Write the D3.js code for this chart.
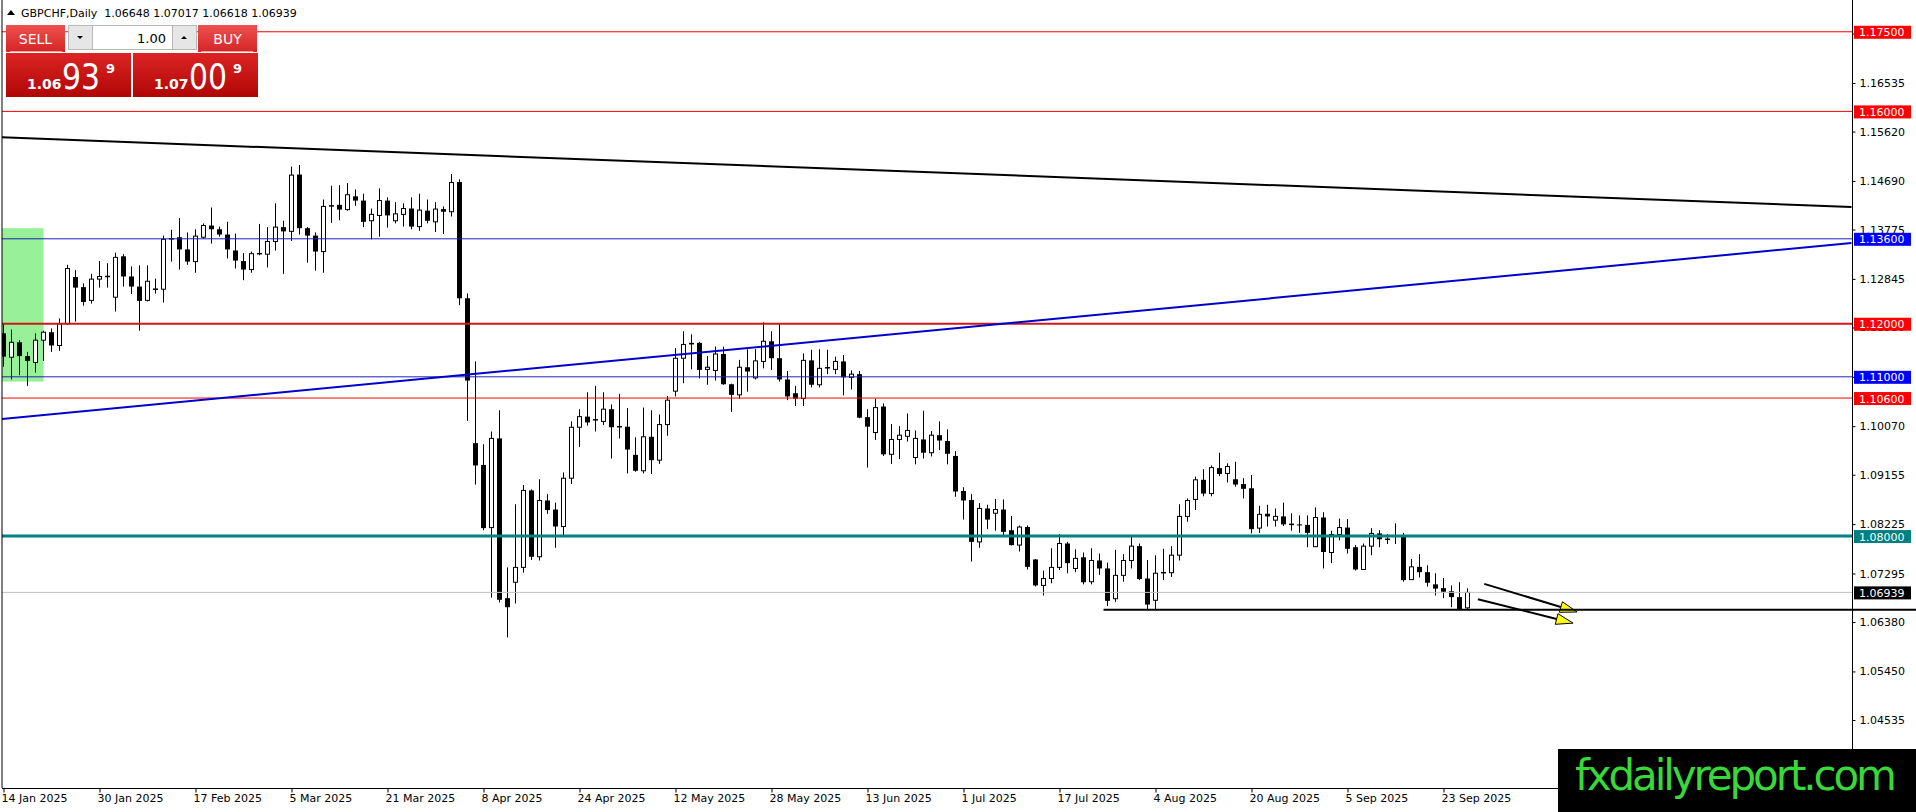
<!DOCTYPE html>
<html>
<head>
<meta charset="utf-8">
<script src="https://cdn.jsdelivr.net/npm/d3@7"></script>
<style>
  body { margin: 0; background: #fff; overflow: hidden; }
  svg { display: block; }
  text { font-family: "DejaVu Sans", sans-serif; }
</style>
</head>
<body>
<div id="chart"></div>
<script>
// GBPCHF daily, 14 Jan 2025 .. 26 Sep 2025
const symbolName = "GBPCHF,Daily";
const dateLabels = ["14 Jan 2025", "30 Jan 2025", "17 Feb 2025", "5 Mar 2025", "21 Mar 2025", "8 Apr 2025",
  "24 Apr 2025", "12 May 2025", "28 May 2025", "13 Jun 2025", "1 Jul 2025", "17 Jul 2025",
  "4 Aug 2025", "20 Aug 2025", "5 Sep 2025", "23 Sep 2025"];
const dateLabelBars = [0, 12, 24, 36, 48, 60, 72, 84, 96, 108, 120, 132, 144, 156, 168, 180];

const opens = [
  1.1182, 1.1137, 1.1165, 1.1139, 1.1127, 1.1169, 1.1184, 1.1159, 1.1200, 1.1288,
  1.1269, 1.1244, 1.1284, 1.1289, 1.1250, 1.1327, 1.1289, 1.1270, 1.1244, 1.1265,
  1.1265, 1.1360, 1.1363, 1.1340, 1.1317, 1.1363, 1.1385, 1.1378, 1.1368, 1.1338,
  1.1318, 1.1302, 1.1332, 1.1331, 1.1355, 1.1382, 1.1374, 1.1481, 1.1380, 1.1366,
  1.1336, 1.1422, 1.1424, 1.1415, 1.1440, 1.1432, 1.1394, 1.1404, 1.1432, 1.1394,
  1.1406, 1.1417, 1.1383, 1.1413, 1.1392, 1.1416, 1.1411, 1.1467, 1.1248, 1.0975,
  1.0934, 1.0816, 1.0984, 1.0683, 1.0713, 1.0741, 1.0886, 1.0761, 1.0867, 1.0850,
  1.0818, 1.0909, 1.1005, 1.1025, 1.1019, 1.1016, 1.1039, 1.1006, 1.1006, 1.0953,
  1.0923, 1.0987, 1.0943, 1.1010, 1.1073, 1.1135, 1.1164, 1.1164, 1.1114, 1.1112,
  1.1143, 1.1086, 1.1066, 1.1118, 1.1098, 1.1129, 1.1167, 1.1135, 1.1095, 1.1069,
  1.1059, 1.1131, 1.1085, 1.1117, 1.1114, 1.1129, 1.1099, 1.1105, 1.1024, 1.0995,
  1.1044, 1.0954, 1.0982, 1.0988, 1.0948, 1.0982, 1.0957, 1.0990, 1.0979, 1.0951,
  1.0885, 1.0868, 1.0789, 1.0852, 1.0843, 1.0850, 1.0811, 1.0783, 1.0817, 1.0756,
  1.0707, 1.0720, 1.0741, 1.0786, 1.0739, 1.0760, 1.0714, 1.0754, 1.0739, 1.0682,
  1.0726, 1.0754, 1.0781, 1.0720, 1.0679, 1.0731, 1.0731, 1.0764, 1.0837, 1.0869,
  1.0906, 1.0880, 1.0928, 1.0918, 1.0907, 1.0898, 1.0890, 1.0815, 1.0842, 1.0830,
  1.0837, 1.0822, 1.0822, 1.0821, 1.0780, 1.0835, 1.0769, 1.0803, 1.0816, 1.0779,
  1.0737, 1.0781, 1.0805, 1.0794, 1.0800, 1.0800, 1.0718, 1.0742, 1.0732, 1.0709,
  1.0702, 1.0696, 1.0685, 1.06648];
const highs = [
  1.1201, 1.1189, 1.1169, 1.1147, 1.1182, 1.1187, 1.1191, 1.1210, 1.1311, 1.1301,
  1.1276, 1.1294, 1.1318, 1.1314, 1.1334, 1.1331, 1.1308, 1.1310, 1.1310, 1.1285,
  1.1366, 1.1377, 1.1399, 1.1372, 1.1378, 1.1389, 1.1419, 1.1383, 1.1392, 1.1370,
  1.1333, 1.1336, 1.1388, 1.1382, 1.1427, 1.1394, 1.1496, 1.1499, 1.1382, 1.1372,
  1.1434, 1.1460, 1.1461, 1.1465, 1.1453, 1.1445, 1.1417, 1.1455, 1.1438, 1.1429,
  1.1427, 1.1438, 1.1445, 1.1434, 1.1429, 1.1421, 1.1482, 1.1472, 1.1257, 1.1129,
  1.0973, 1.0997, 1.1037, 1.0741, 1.0860, 1.0896, 1.0888, 1.0907, 1.0879, 1.0863,
  1.0920, 1.1016, 1.1039, 1.1071, 1.1083, 1.1071, 1.1048, 1.1068, 1.1041, 1.0986,
  1.1042, 1.1037, 1.1029, 1.1064, 1.1154, 1.1186, 1.1180, 1.1166, 1.1139, 1.1157,
  1.1157, 1.1087, 1.1132, 1.1152, 1.1152, 1.1203, 1.1186, 1.1200, 1.1111, 1.1083,
  1.1144, 1.1151, 1.1152, 1.1151, 1.1138, 1.1141, 1.1112, 1.1111, 1.1039, 1.1059,
  1.1050, 1.1011, 1.1007, 1.1031, 1.0999, 1.1036, 1.0998, 1.1016, 1.1001, 1.0960,
  1.0892, 1.0879, 1.0862, 1.0859, 1.0870, 1.0869, 1.0838, 1.0820, 1.0820, 1.0757,
  1.0735, 1.0777, 1.0804, 1.0789, 1.0775, 1.0769, 1.0777, 1.0767, 1.0750, 1.0774,
  1.0766, 1.0799, 1.0786, 1.0755, 1.0764, 1.0776, 1.0781, 1.0860, 1.0871, 1.0912,
  1.0926, 1.0933, 1.0957, 1.0937, 1.0940, 1.0909, 1.0915, 1.0857, 1.0859, 1.0852,
  1.0863, 1.0843, 1.0839, 1.0839, 1.0854, 1.0845, 1.0810, 1.0833, 1.0832, 1.0783,
  1.0786, 1.0815, 1.0811, 1.0804, 1.0824, 1.0806, 1.0757, 1.0766, 1.0745, 1.0730,
  1.0721, 1.0707, 1.0713, 1.07017];
const lows = [
  1.1119, 1.1095, 1.1103, 1.1083, 1.1108, 1.1130, 1.1147, 1.1149, 1.1198, 1.1204,
  1.1234, 1.1238, 1.1268, 1.1268, 1.1223, 1.1270, 1.1256, 1.1187, 1.1242, 1.1257,
  1.1240, 1.1317, 1.1302, 1.1311, 1.1296, 1.1360, 1.1351, 1.1364, 1.1323, 1.1304,
  1.1282, 1.1296, 1.1329, 1.1306, 1.1338, 1.1294, 1.1356, 1.1368, 1.1315, 1.1300,
  1.1296, 1.1390, 1.1395, 1.1413, 1.1422, 1.1382, 1.1359, 1.1364, 1.1381, 1.1389,
  1.1383, 1.1378, 1.1375, 1.1389, 1.1373, 1.1369, 1.1402, 1.1235, 1.1017, 1.0897,
  1.0811, 1.0684, 1.0675, 1.0609, 1.0673, 1.0731, 1.0755, 1.0754, 1.0842, 1.0778,
  1.0798, 1.0898, 1.0968, 1.1008, 1.0997, 1.1009, 1.0946, 1.0984, 1.0918, 1.0921,
  1.0918, 1.0917, 1.0936, 1.0989, 1.1063, 1.1088, 1.1114, 1.1097, 1.1085, 1.1093,
  1.1085, 1.1034, 1.1059, 1.1072, 1.1095, 1.1116, 1.1113, 1.1091, 1.1056, 1.1045,
  1.1045, 1.1080, 1.1080, 1.1105, 1.1105, 1.1065, 1.1076, 1.1022, 1.0929, 1.0981,
  1.0951, 1.0936, 1.0945, 1.0978, 1.0935, 1.0946, 1.0950, 1.0962, 1.0935, 1.0874,
  1.0831, 1.0752, 1.0778, 1.0813, 1.0810, 1.0800, 1.0782, 1.0771, 1.0737, 1.0705,
  1.0688, 1.0711, 1.0736, 1.0730, 1.0732, 1.0709, 1.0709, 1.0727, 1.0668, 1.0676,
  1.0714, 1.0739, 1.0717, 1.0662, 1.0661, 1.0717, 1.0723, 1.0754, 1.0827, 1.0849,
  1.0875, 1.0875, 1.0913, 1.0901, 1.0893, 1.0871, 1.0805, 1.0806, 1.0818, 1.0818,
  1.0819, 1.0810, 1.0806, 1.0779, 1.0780, 1.0739, 1.0749, 1.0792, 1.0767, 1.0735,
  1.0736, 1.0764, 1.0779, 1.0785, 1.0785, 1.0714, 1.0718, 1.0722, 1.0705, 1.0688,
  1.0683, 1.0666, 1.0661, 1.06618];
const closes = [
  1.1138, 1.1165, 1.1139, 1.1130, 1.1169, 1.1184, 1.1159, 1.1200, 1.1304, 1.1268,
  1.1241, 1.1284, 1.1289, 1.1289, 1.1325, 1.1289, 1.1270, 1.1243, 1.1280, 1.1265,
  1.1359, 1.1360, 1.1340, 1.1317, 1.1365, 1.1385, 1.1378, 1.1368, 1.1340, 1.1319,
  1.1302, 1.1332, 1.1332, 1.1355, 1.1382, 1.1374, 1.1480, 1.1380, 1.1366, 1.1336,
  1.1421, 1.1422, 1.1415, 1.1443, 1.1432, 1.1392, 1.1406, 1.1432, 1.1404, 1.1407,
  1.1417, 1.1383, 1.1414, 1.1394, 1.1416, 1.1411, 1.1466, 1.1248, 1.1093, 1.0933,
  1.0815, 1.0984, 1.0680, 1.0666, 1.0741, 1.0886, 1.0761, 1.0867, 1.0849, 1.0818,
  1.0909, 1.1005, 1.1025, 1.1014, 1.1019, 1.1039, 1.1005, 1.1006, 1.0963, 1.0923,
  1.0987, 1.0943, 1.1010, 1.1056, 1.1135, 1.1161, 1.1161, 1.1113, 1.1118, 1.1143,
  1.1086, 1.1066, 1.1118, 1.1110, 1.1130, 1.1167, 1.1135, 1.1095, 1.1063, 1.1059,
  1.1131, 1.1085, 1.1116, 1.1117, 1.1129, 1.1099, 1.1105, 1.1023, 1.1006, 1.1042,
  1.0954, 1.0982, 1.0990, 1.0999, 1.0984, 1.0957, 1.0990, 1.0980, 1.0955, 1.0884,
  1.0867, 1.0789, 1.0852, 1.0831, 1.0850, 1.0808, 1.0783, 1.0817, 1.0742, 1.0707,
  1.0720, 1.0741, 1.0786, 1.0749, 1.0758, 1.0713, 1.0754, 1.0739, 1.0678, 1.0726,
  1.0754, 1.0781, 1.0719, 1.0671, 1.0730, 1.0731, 1.0764, 1.0837, 1.0867, 1.0906,
  1.0880, 1.0929, 1.0917, 1.0931, 1.0897, 1.0889, 1.0813, 1.0841, 1.0837, 1.0837,
  1.0822, 1.0822, 1.0820, 1.0806, 1.0835, 1.0770, 1.0803, 1.0816, 1.0776, 1.0737,
  1.0781, 1.0805, 1.0794, 1.0794, 1.0800, 1.0717, 1.0742, 1.0732, 1.0712, 1.0701,
  1.0695, 1.0685, 1.0661, 1.06939];

const priceTicks = [1.17465, 1.16535, 1.15620, 1.14690, 1.13775, 1.12845, 1.11930, 1.11000,
  1.10070, 1.09155, 1.08225, 1.07295, 1.06380, 1.05450, 1.04535];

// horizontal levels drawn on the chart
const levelPrices = [1.175, 1.16, 1.136, 1.12, 1.11, 1.106, 1.08];
// trend lines, anchors as [bar index, price]
const blackTrend = [[0, 1.1551], [231, 1.1420]];
const blueTrend = [[0, 1.1021], [231, 1.1352]];
const supportStart = 137.5, supportPrice = 1.0661;
// arrows [barFrom, priceFrom, barTo, priceTo]
const arrowLines = [[185.1, 1.0710, 196.7, 1.0657], [184.3, 1.0681, 196.2, 1.0636]];
// shaded zone at the start
const zoneBars = [-1, 5], zonePrices = [1.1091, 1.1380];

const lastBid = closes[closes.length - 1];
const askPrice = 1.07009;

// ---- layout ----
const W = 1916, H = 812;
const plotL = 2, plotR = 1852, plotB = 788;

const svg = d3.select("#chart").append("svg").attr("width", W).attr("height", H);
const defs = svg.append("defs");
defs.append("clipPath").attr("id", "plotClip")
  .append("rect").attr("x", plotL).attr("y", 0).attr("width", plotR - plotL).attr("height", plotB);

const x = d3.scaleLinear().domain([0, 231]).range([3.5, 1851.5]);
const y = d3.scaleLinear().domain([1.04535, 1.16535]).range([720, 83]);

const plot = svg.append("g").attr("clip-path", "url(#plotClip)");

// zone rectangle (background)
plot.append("rect")
  .attr("x", x(zoneBars[0])).attr("y", y(zonePrices[1]))
  .attr("width", x(zoneBars[1]) - x(zoneBars[0]))
  .attr("height", y(zonePrices[0]) - y(zonePrices[1]))
  .attr("fill", "#98f098");

// candles
const bars = d3.range(opens.length).map(i => ({ i, o: opens[i], h: highs[i], l: lows[i], c: closes[i] }));
const cg = plot.append("g");
cg.selectAll("line.wick").data(bars).enter().append("line")
  .attr("x1", d => x(d.i)).attr("x2", d => x(d.i))
  .attr("y1", d => y(d.h)).attr("y2", d => y(d.l))
  .attr("stroke", "#000").attr("stroke-width", 1);
cg.selectAll("rect.body").data(bars.filter(d => d.c !== d.o)).enter().append("rect")
  .attr("x", d => d.c > d.o ? x(d.i) - 2 : x(d.i) - 2.5)
  .attr("width", d => d.c > d.o ? 4 : 5)
  .attr("y", d => y(Math.max(d.o, d.c)))
  .attr("height", d => Math.max(1, y(Math.min(d.o, d.c)) - y(Math.max(d.o, d.c))))
  .attr("fill", d => d.c > d.o ? "#fff" : "#000")
  .attr("stroke", "#000").attr("stroke-width", d => d.c > d.o ? 1 : 0);
cg.selectAll("line.doji").data(bars.filter(d => d.c === d.o)).enter().append("line")
  .attr("x1", d => x(d.i) - 2.5).attr("x2", d => x(d.i) + 2.5)
  .attr("y1", d => y(d.c)).attr("y2", d => y(d.c))
  .attr("stroke", "#000").attr("stroke-width", 1.5);

// horizontal levels
const levelStyle = {
  1.175: { color: "#ff0000", w: 1 },
  1.16: { color: "#ff0000", w: 1 },
  1.136: { color: "#2020b8", w: 1 },
  1.12: { color: "#d01818", w: 2 },
  1.11: { color: "#2020b8", w: 1 },
  1.106: { color: "#ff0000", w: 1 },
  1.08: { color: "#008080", w: 3 }
};
plot.selectAll("line.level").data(levelPrices).enter().append("line")
  .attr("x1", plotL).attr("x2", plotR)
  .attr("y1", d => y(d)).attr("y2", d => y(d))
  .attr("stroke", d => levelStyle[d].color)
  .attr("stroke-width", d => levelStyle[d].w);

// bid line
plot.append("line")
  .attr("x1", plotL).attr("x2", plotR)
  .attr("y1", y(lastBid)).attr("y2", y(lastBid))
  .attr("stroke", "#c0c0c0").attr("stroke-width", 1);

// trend lines, extended a little past the left border
[[blackTrend, "#000"], [blueTrend, "#0000cd"]].forEach(([pts, col]) => {
  const slope = (pts[1][1] - pts[0][1]) / (pts[1][0] - pts[0][0]);
  plot.append("line")
    .attr("x1", x(-2)).attr("y1", y(pts[0][1] - 2 * slope))
    .attr("x2", x(pts[1][0])).attr("y2", y(pts[1][1]))
    .attr("stroke", col).attr("stroke-width", 2);
});

// arrows
arrowLines.forEach(a => {
  const x1 = x(a[0]), y1 = y(a[1]), x2 = x(a[2]), y2 = y(a[3]);
  const ang = Math.atan2(y2 - y1, x2 - x1);
  const len = 17, hw = 5.5;
  const bx = x2 - len * Math.cos(ang), by = y2 - len * Math.sin(ang);
  svg.append("line").attr("x1", x1).attr("y1", y1).attr("x2", bx).attr("y2", by)
    .attr("stroke", "#000").attr("stroke-width", 2);
  const pts = [
    [x2, y2],
    [bx + hw * Math.sin(ang), by - hw * Math.cos(ang)],
    [bx - hw * Math.sin(ang), by + hw * Math.cos(ang)]
  ];
  svg.append("polygon").attr("points", pts.map(p => p.join(",")).join(" "))
    .attr("fill", "#ffff00").attr("stroke", "#000").attr("stroke-width", 1);
});

// support line (runs across the price scale too)
svg.append("line")
  .attr("x1", x(supportStart)).attr("x2", W)
  .attr("y1", y(supportPrice)).attr("y2", y(supportPrice))
  .attr("stroke", "#000").attr("stroke-width", 2);

// frame
svg.append("line").attr("x1", plotL).attr("x2", plotL).attr("y1", 0).attr("y2", plotB).attr("stroke", "#000");
svg.append("line").attr("x1", plotR + 0.5).attr("x2", plotR + 0.5).attr("y1", 0).attr("y2", plotB).attr("stroke", "#000");
svg.append("line").attr("x1", plotL).attr("x2", plotR).attr("y1", plotB + 0.5).attr("y2", plotB + 0.5).attr("stroke", "#000");

// price axis
const yAxis = svg.append("g").attr("transform", `translate(${plotR + 0.5},0)`)
  .call(d3.axisRight(y).tickValues(priceTicks).tickFormat(d3.format(".5f")).tickSize(3).tickPadding(4));
yAxis.select(".domain").remove();
yAxis.selectAll("text").attr("font-size", 11).attr("font-family", "DejaVu Sans").attr("fill", "#000");

// time axis
const xAxis = svg.append("g").attr("transform", `translate(0,${plotB + 0.5})`)
  .call(d3.axisBottom(x).tickValues(dateLabelBars).tickFormat((d, i) => dateLabels[i]).tickSize(4).tickPadding(2));
xAxis.select(".domain").remove();
xAxis.selectAll("text").attr("font-size", 11).attr("font-family", "DejaVu Sans")
  .attr("text-anchor", "start").attr("dx", -2.5).attr("fill", "#000");

// price labels on the scale
const labelFill = {
  1.175: "#ff0000", 1.16: "#ff0000", 1.136: "#0000ff", 1.12: "#ff0000",
  1.11: "#0000ff", 1.106: "#ff0000", 1.08: "#008080"
};
const tagData = levelPrices.map(p => ({ p, fill: labelFill[p] })).concat([{ p: lastBid, fill: "#000" }]);
const tags = svg.append("g").selectAll("g").data(tagData).enter().append("g")
  .attr("transform", d => `translate(${plotR + 2},${y(d.p)})`);
tags.append("rect").attr("x", 0).attr("y", -6).attr("width", 57).attr("height", 13).attr("fill", d => d.fill);
tags.append("text").attr("x", 5).attr("y", 4.5).attr("font-size", 11).attr("fill", "#fff")
  .text(d => d.p.toFixed(5));

// header
svg.append("path").attr("d", "M7,15 L11,10 L15,15 Z").attr("fill", "#000");
svg.append("text").attr("x", 21).attr("y", 17).attr("font-size", 11).attr("fill", "#000")
  .attr("xml:space", "preserve")
  .text(`${symbolName}  ${opens[183].toFixed(5)} ${highs[183].toFixed(5)} ${lows[183].toFixed(5)} ${closes[183].toFixed(5)}`);

// one-click trading panel
const btnGrad = defs.append("linearGradient").attr("id", "btnGrad").attr("x1", 0).attr("x2", 0).attr("y1", 0).attr("y2", 1);
btnGrad.append("stop").attr("offset", "0%").attr("stop-color", "#ee5050");
btnGrad.append("stop").attr("offset", "100%").attr("stop-color", "#d52525");
const boxGrad = defs.append("linearGradient").attr("id", "boxGrad").attr("x1", 0).attr("x2", 0).attr("y1", 0).attr("y2", 1);
boxGrad.append("stop").attr("offset", "0%").attr("stop-color", "#dd2424");
boxGrad.append("stop").attr("offset", "100%").attr("stop-color", "#b00606");

const panel = svg.append("g").attr("font-family", "'Open Sans', 'Noto Sans', sans-serif");
panel.append("rect").attr("x", 6).attr("y", 25).attr("width", 59).attr("height", 27).attr("fill", "url(#btnGrad)");
panel.append("rect").attr("x", 198).attr("y", 25).attr("width", 59).attr("height", 27).attr("fill", "url(#btnGrad)");
panel.append("line").attr("x1", 10).attr("x2", 62).attr("y1", 51.5).attr("y2", 51.5).attr("stroke", "#f4a0a0");
panel.append("line").attr("x1", 201).attr("x2", 253).attr("y1", 51.5).attr("y2", 51.5).attr("stroke", "#f4a0a0");
panel.append("text").attr("x", 35.5).attr("y", 44).attr("text-anchor", "middle").attr("font-size", 14).attr("fill", "#fff").text("SELL");
panel.append("text").attr("x", 227.5).attr("y", 44).attr("text-anchor", "middle").attr("font-size", 14).attr("fill", "#fff").text("BUY");
// lot size spinner
panel.append("rect").attr("x", 68.5).attr("y", 25.5).attr("width", 128).attr("height", 24).attr("fill", "#fff").attr("stroke", "#b8b8b8");
panel.append("rect").attr("x", 68.5).attr("y", 25.5).attr("width", 24).attr("height", 24).attr("fill", "#e6e6e6").attr("stroke", "#b8b8b8");
panel.append("rect").attr("x", 172.5).attr("y", 25.5).attr("width", 24).attr("height", 24).attr("fill", "#e6e6e6").attr("stroke", "#b8b8b8");
panel.append("path").attr("d", "M77,36 L83,36 L80,39 Z").attr("fill", "#000");
panel.append("path").attr("d", "M181,39 L187,39 L184,36 Z").attr("fill", "#000");
panel.append("text").attr("x", 166).attr("y", 43).attr("text-anchor", "end").attr("font-size", 13).attr("fill", "#000").text("1.00");
// price boxes
const bidStr = lastBid.toFixed(5), askStr = askPrice.toFixed(5);
[[6, bidStr], [133, askStr]].forEach(([bx, s]) => {
  panel.append("rect").attr("x", bx).attr("y", 53).attr("width", 125).attr("height", 44).attr("fill", "url(#boxGrad)");
  panel.append("text").attr("x", bx + 21).attr("y", 89).attr("font-size", 14).attr("font-weight", "bold").attr("fill", "#fff").text(s.slice(0, 4));
  panel.append("text").attr("x", bx + 56).attr("y", 89).attr("font-size", 36)
    .attr("textLength", 38).attr("lengthAdjust", "spacingAndGlyphs").attr("fill", "#fff").text(s.slice(4, 6));
  panel.append("text").attr("x", bx + 100).attr("y", 73).attr("font-size", 13).attr("font-weight", "bold").attr("fill", "#fff").text(s.slice(6, 7));
});

// watermark
svg.append("rect").attr("x", 1558).attr("y", 749).attr("width", W - 1558).attr("height", H - 749).attr("fill", "#000");
svg.append("text").attr("x", 1575).attr("y", 790).attr("font-family", "'Liberation Sans', Arial, sans-serif")
  .attr("font-size", 42).attr("fill", "#38d838").attr("textLength", 322).text("fxdailyreport.com");
</script>
</body>
</html>
